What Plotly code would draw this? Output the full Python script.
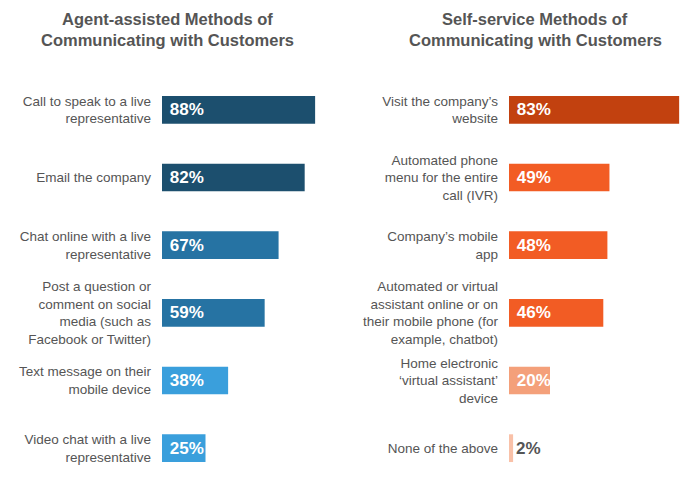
import plotly.graph_objects as go

left_title_lines = ["Agent-assisted Methods of", "Communicating with Customers"]
right_title_lines = ["Self-service Methods of", "Communicating with Customers"]

left_labels = [
    "Call to speak to a live<br>representative",
    "Email the company",
    "Chat online with a live<br>representative",
    "Post a question or<br>comment on social<br>media (such as<br>Facebook or Twitter)",
    "Text message on their<br>mobile device",
    "Video chat with a live<br>representative",
]
left_values = [88, 82, 67, 59, 38, 25]
left_colors = ["#1c4f6e", "#1c4f6e", "#2673a3", "#2673a3", "#3a9fdc", "#3a9fdc"]

right_labels = [
    "Visit the company\u2019s<br>website",
    "Automated phone<br>menu for the entire<br>call (IVR)",
    "Company\u2019s mobile<br>app",
    "Automated or virtual<br>assistant online or on<br>their mobile phone (for<br>example, chatbot)",
    "Home electronic<br>\u2018virtual assistant\u2019<br>device",
    "None of the above",
]
right_values = [83, 49, 48, 46, 20, 2]
right_colors = ["#c2410f", "#f25c24", "#f25c24", "#f25c24", "#f4a07a", "#f9c1a8"]

FONT = "Liberation Sans, Arial, Helvetica, sans-serif"
GRAY = "#555555"

# page body has an 8px margin; work in page pixel coordinates and convert
OFF = 8
W, H = 700 - OFF, 482 - OFF
TOP = 76 - OFF
plot_h = H - TOP

def px(xpage):
    return (xpage - OFF) / W

def py(ypage):
    return 1 + (TOP - (ypage - OFF)) / plot_h

fig = go.Figure()

def add_bars(labels, values, colors, xa, ya):
    positions = ["inside" if v >= 10 else "outside" for v in values]
    tcolors = ["white" if v >= 10 else GRAY for v in values]
    fig.add_trace(go.Bar(
        x=values, y=labels, orientation="h",
        marker=dict(color=colors, line=dict(width=0)),
        width=0.41,
        text=[("\u00a0" if v >= 10 else "") + f"<b>{v}%</b>" for v in values],
        textposition=positions,
        insidetextanchor="start",
        textfont=dict(family=FONT, size=17, color=tcolors),
        constraintext="none",
        cliponaxis=False,
        xaxis=xa, yaxis=ya, showlegend=False, hoverinfo="skip",
    ))

add_bars(left_labels, left_values, left_colors, "x", "y")
add_bars(right_labels, right_values, right_colors, "x2", "y2")

axis_common_x = dict(showgrid=False, zeroline=False, showticklabels=False, showline=False,
                     fixedrange=True, automargin=False)
axis_common_y = dict(showgrid=False, zeroline=False, showline=False, ticks="",
                     autorange="reversed", ticklabelstandoff=10, automargin=False,
                     tickfont=dict(family=FONT, size=13.5, color=GRAY))

annotations = []
for lines, xc in ((left_title_lines, 167), (right_title_lines, 535)):
    for line, yc in zip(lines, (19, 40)):
        annotations.append(dict(
            text=f"<b>{line}</b>", xref="paper", yref="paper",
            x=px(xc), y=py(yc), xanchor="center", yanchor="middle", showarrow=False,
            borderpad=0, font=dict(family=FONT, size=16.5, color=GRAY)))

fig.update_layout(
    width=W, height=H,
    margin=dict(l=0, r=0, t=TOP, b=0, autoexpand=False),
    paper_bgcolor="white", plot_bgcolor="white",
    xaxis=dict(domain=[px(162), px(336)], range=[0, 100], anchor="y", **axis_common_x),
    yaxis=dict(anchor="x", categoryorder="array", categoryarray=left_labels, **axis_common_y),
    xaxis2=dict(domain=[px(509), px(509 + 2.05 * 90)], range=[0, 90], anchor="y2", **axis_common_x),
    yaxis2=dict(anchor="x2", categoryorder="array", categoryarray=right_labels, **axis_common_y),
    annotations=annotations,
    bargap=0.6,
)

fig.write_html("out.html")
